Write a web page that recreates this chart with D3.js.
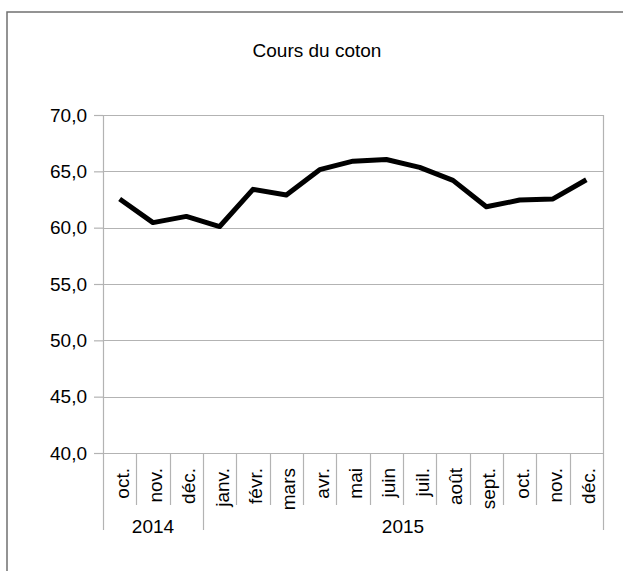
<!DOCTYPE html>
<html>
<head>
<meta charset="utf-8">
<script src="https://cdn.jsdelivr.net/npm/d3@7"></script>
<style>
  html, body { margin: 0; padding: 0; background: #fff; }
  svg { display: block; }
  text { font-family: "Liberation Sans", Arial, sans-serif; fill: #000; }
</style>
</head>
<body>
<svg id="chart" width="623" height="571"></svg>
<script>
const title = "Cours du coton";
const months = ["oct.", "nov.", "déc.", "janv.", "févr.", "mars", "avr.", "mai", "juin", "juil.", "août", "sept.", "oct.", "nov.", "déc."];
const years = [
  { label: "2014", start: 0, end: 3 },
  { label: "2015", start: 3, end: 15 }
];
const values = [62.55, 60.45, 61.0, 60.1, 63.4, 62.9, 65.15, 65.9, 66.05, 65.35, 64.2, 61.85, 62.45, 62.55, 64.25];
const yTicks = [40, 45, 50, 55, 60, 65, 70];

const svg = d3.select("#chart");
const W = 623, H = 571;
const plot = { left: 103, right: 603, top: 115, bottom: 453 };
const gridColor = "#b3b3b3";
const fs = "19px";

// outer frame (top and left edges visible)
svg.append("path")
  .attr("d", `M7,${H} L7,12 L${W},12`)
  .attr("fill", "none").attr("stroke", "#707070").attr("stroke-width", 1.5);

const x = d3.scaleBand().domain(d3.range(months.length)).range([plot.left, plot.right]).padding(0);
const y = d3.scaleLinear().domain([40, 70]).range([plot.bottom, plot.top]);

const fr = d3.formatLocale({ decimal: ",", thousands: " ", grouping: [3], currency: ["", "€"] });
const fmt = fr.format(".1f");

// title
svg.append("text").attr("x", 317).attr("y", 57)
  .attr("text-anchor", "middle").style("font-size", fs).text(title);

// gridlines
svg.append("g").selectAll("line").data(yTicks).join("line")
  .attr("x1", plot.left).attr("x2", plot.right)
  .attr("y1", d => Math.round(y(d)) + 0.5).attr("y2", d => Math.round(y(d)) + 0.5)
  .attr("stroke", gridColor).attr("stroke-width", 1.2);

// y axis
const yAxis = d3.axisLeft(y).tickValues(yTicks).tickFormat(fmt).tickSize(9).tickPadding(7);
const gy = svg.append("g").attr("transform", `translate(${plot.left},0)`).call(yAxis);
gy.select(".domain").remove();
gy.selectAll(".tick line").attr("stroke", gridColor).attr("stroke-width", 1.2);
gy.selectAll(".tick text").style("font-size", fs).style("font-family", "'Liberation Sans', Arial, sans-serif").attr("fill", "#000");
svg.append("line").attr("x1", plot.left + 0.5).attr("x2", plot.left + 0.5)
  .attr("y1", plot.top).attr("y2", plot.bottom).attr("stroke", gridColor).attr("stroke-width", 1.2);
svg.append("line").attr("x1", plot.right + 0.5).attr("x2", plot.right + 0.5)
  .attr("y1", plot.top).attr("y2", plot.bottom).attr("stroke", gridColor).attr("stroke-width", 1.2);

// category separators (month ticks)
const bounds = d3.range(months.length + 1).map(i => i < months.length ? x(i) : x(months.length - 1) + x.bandwidth());
const yearBounds = new Set(years.flatMap(yy => [yy.start, yy.end]));
svg.append("g").selectAll("line").data(d3.range(months.length + 1)).join("line")
  .attr("x1", i => Math.round(bounds[i]) + 0.5).attr("x2", i => Math.round(bounds[i]) + 0.5)
  .attr("y1", plot.bottom)
  .attr("y2", i => yearBounds.has(i) ? 530 : 505)
  .attr("stroke", gridColor).attr("stroke-width", 1.2);

// month labels (rotated)
svg.append("g").selectAll("text").data(months).join("text")
  .attr("transform", (d, i) => `translate(${x(i) + x.bandwidth() / 2 + 9},468) rotate(-90)`)
  .attr("text-anchor", "end")
  .style("font-size", fs)
  .text(d => d);

// year labels
svg.append("g").selectAll("text").data(years).join("text")
  .attr("x", d => (bounds[d.start] + bounds[d.end]) / 2)
  .attr("y", 533)
  .attr("text-anchor", "middle")
  .style("font-size", fs)
  .text(d => d.label);

// line
const line = d3.line().x((d, i) => x(i) + x.bandwidth() / 2).y(d => y(d));
svg.append("path").datum(values)
  .attr("d", line)
  .attr("fill", "none").attr("stroke", "#000").attr("stroke-width", 5)
  .attr("stroke-linejoin", "round").attr("stroke-linecap", "butt");
</script>
</body>
</html>
